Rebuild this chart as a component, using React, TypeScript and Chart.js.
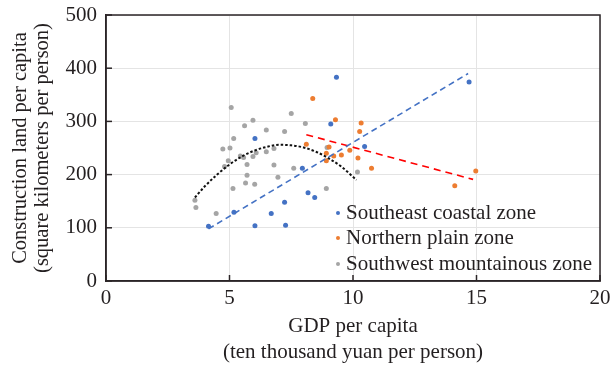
import React, { useEffect, useRef } from 'react';
import { Chart, registerables } from 'chart.js';

Chart.register(...registerables);

const FONT = "'Liberation Serif', 'Times New Roman', serif";
const TEXT = '#231f20';

const seriesNames = ['Southeast coastal zone', 'Northern plain zone', 'Southwest mountainous zone'];
const seriesColors = ['#4472c4', '#ed7d31', '#a5a5a5'];

const southeastX = [6.03, 5.18, 6.69, 4.15, 6.03, 9.33, 9.1, 10.47, 7.95, 8.18, 8.45, 7.23, 7.27, 14.7];
const southeastY = [268, 129, 127, 103, 104, 383, 295, 253, 212, 166, 157, 148, 105, 374];

const northernX = [8.37, 9.29, 10.33, 10.27, 8.11, 9.03, 9.87, 8.92, 9.22, 9.53, 8.92, 10.2, 10.75, 14.12, 14.97];
const northernY = [343, 303, 297, 281, 257, 252, 246, 240, 235, 237, 226, 231, 212, 179, 207];

const southwestX = [5.07, 5.95, 5.61, 6.49, 7.23, 7.5, 8.07, 5.17, 4.73, 5.02, 5.44, 5.57, 5.95, 6.08, 6.49, 6.8,
  4.95, 4.8, 5.71, 6.8, 5.71, 6.96, 5.14, 5.65, 6.02, 3.6, 3.64, 4.46, 7.6, 8.95, 8.92, 10.18];
const southwestY = [326, 302, 292, 284, 281, 315, 296, 268, 248, 250, 235, 232, 234, 241, 243, 249,
  226, 215, 219, 218, 199, 195, 174, 184, 182, 152, 138, 127, 212, 251, 174, 205];

const southeastTrendX = [4.15, 14.66];
const southeastTrendY = [98, 390];
const northernTrendX = [8.11, 14.86];
const northernTrendY = [275, 191];
const southwestTrendX = [3.6, 4, 4.5, 5, 5.5, 6, 6.5, 7, 7.5, 8, 8.5, 9, 9.5, 10.14];
const southwestTrendY = [157, 178, 200, 219, 234, 245, 252, 256, 255, 251, 243, 231, 216, 190];

const xTicks = [0, 5, 10, 15, 20];
const yTicks = [0, 100, 200, 300, 400, 500];

const zip = (xs: number[], ys: number[]) => xs.map((x, i) => ({ x, y: ys[i] }));

const framePlugin = {
  id: 'frameAndLegend',
  afterDraw(chart: any) {
    const { ctx, chartArea, scales } = chart;
    const { left, right, top, bottom } = chartArea;
    ctx.save();
    ctx.strokeStyle = '#2b2527';
    ctx.lineWidth = 1.5;
    xTicks.forEach((v) => {
      const px = scales.x.getPixelForValue(v);
      ctx.beginPath();
      ctx.moveTo(px, bottom);
      ctx.lineTo(px, bottom - 6);
      ctx.stroke();
    });
    yTicks.forEach((v) => {
      const py = scales.y.getPixelForValue(v);
      ctx.beginPath();
      ctx.moveTo(left, py);
      ctx.lineTo(left + 6, py);
      ctx.stroke();
    });
    ctx.strokeRect(left, top, right - left, bottom - top);

    const rowsY = [bottom - 68, bottom - 43, bottom - 17];
    const dotX = right - 262;
    ctx.font = `21px ${FONT}`;
    ctx.textBaseline = 'middle';
    ctx.textAlign = 'left';
    seriesNames.forEach((name, i) => {
      ctx.fillStyle = seriesColors[i];
      ctx.beginPath();
      ctx.arc(dotX, rowsY[i], 2, 0, Math.PI * 2);
      ctx.fill();
      ctx.fillStyle = TEXT;
      ctx.fillText(name, dotX + 8, rowsY[i]);
    });
    ctx.restore();
  },
};

const zeroPad = (s: any) => {
  s.paddingTop = 0;
  s.paddingBottom = 0;
  s.paddingLeft = 0;
  s.paddingRight = 0;
};

export default function App() {
  const ref = useRef<HTMLCanvasElement>(null);

  useEffect(() => {
    document.body.style.margin = '0';
    const canvas = ref.current;
    if (!canvas) return;
    const pointDs = (i: number, xs: number[], ys: number[]) => ({
      type: 'scatter' as const,
      label: seriesNames[i],
      data: zip(xs, ys),
      backgroundColor: seriesColors[i],
      borderColor: seriesColors[i],
      pointRadius: 2.5,
      pointBorderWidth: 0,
      showLine: false,
    });
    const lineDs = (xs: number[], ys: number[], color: string, dash: number[], width: number) => ({
      type: 'line' as const,
      label: '',
      data: zip(xs, ys),
      borderColor: color,
      borderWidth: width,
      borderDash: dash,
      pointRadius: 0,
      fill: false,
      tension: 0.4,
      cubicInterpolationMode: 'monotone' as const,
    });
    const chart = new Chart(canvas, {
      type: 'scatter',
      data: {
        datasets: [
          lineDs(southeastTrendX, southeastTrendY, '#4472c4', [6, 4], 1.6),
          lineDs(northernTrendX, northernTrendY, '#ff0000', [7, 5], 1.6),
          lineDs(southwestTrendX, southwestTrendY, '#111111', [2.5, 2], 2),
          pointDs(0, southeastX, southeastY),
          pointDs(1, northernX, northernY),
          pointDs(2, southwestX, southwestY),
        ] as any,
      },
      options: {
        responsive: false,
        animation: false,
        devicePixelRatio: 1,
        layout: { padding: { top: 15, right: 11, left: 0, bottom: 0 } },
        plugins: { legend: { display: false }, tooltip: { enabled: false } },
        scales: {
          x: {
            type: 'linear',
            min: 0,
            max: 20,
            afterFit: (s: any) => { s.height = 84; zeroPad(s); },
            afterBuildTicks: (s: any) => { s.ticks = xTicks.map((v) => ({ value: v })); },
            grid: { color: '#e4e4e4', drawTicks: false, lineWidth: 1 },
            border: { display: true, color: '#2b2527', width: 1.5 },
            ticks: { font: { family: FONT, size: 21 }, color: TEXT, padding: 5, maxRotation: 0 },
            title: {
              display: true,
              text: ['GDP per capita', '(ten thousand yuan per person)'],
              font: { family: FONT, size: 21, lineHeight: 26 / 21 },
              color: TEXT,
              padding: { top: 0, bottom: 0 },
            },
          },
          y: {
            type: 'linear',
            min: 0,
            max: 500,
            afterFit: (s: any) => { s.width = 106; zeroPad(s); },
            afterBuildTicks: (s: any) => { s.ticks = yTicks.map((v) => ({ value: v })); },
            grid: { color: '#e4e4e4', drawTicks: false, lineWidth: 1 },
            border: { display: true, color: '#2b2527', width: 1.5 },
            ticks: { font: { family: FONT, size: 21 }, color: TEXT, padding: 9 },
            title: {
              display: true,
              text: ['Construction land per capita', '(square kilometers per person)'],
              font: { family: FONT, size: 20.5, lineHeight: 22.5 / 20.5 },
              color: TEXT,
              padding: { top: 9, bottom: 0 },
            },
          },
        },
      } as any,
      plugins: [framePlugin],
    });
    return () => chart.destroy();
  }, []);

  return (
    <div style={{ position: 'absolute', left: 0, top: 0, width: 611, height: 365, background: '#fff' }}>
      <canvas ref={ref} width={611} height={365} />
    </div>
  );
}
